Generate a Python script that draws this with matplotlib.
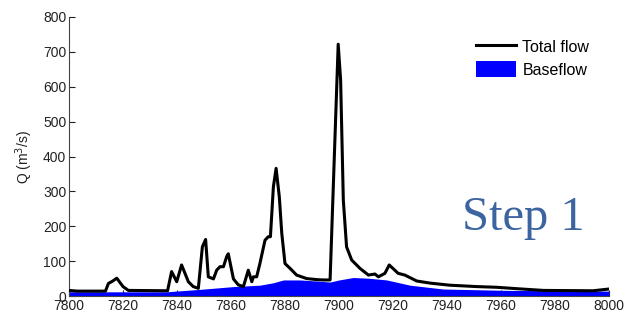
import matplotlib
matplotlib.use("Agg")
import matplotlib.pyplot as plt
from matplotlib.patches import Patch
from matplotlib.lines import Line2D

# Total flow
total_x = [7800, 7803, 7813.5, 7814.6, 7816, 7817.7, 7820, 7822, 7836.5,
           7838, 7839.9, 7841.7, 7844.2, 7846, 7847.9, 7849.4, 7850.6, 7851.6,
           7853.5, 7854.7, 7855.9, 7857.2, 7858.4, 7859, 7860.9, 7862.7, 7864.6,
           7866.4, 7867.7, 7868.3, 7869.5, 7870.7, 7872.6, 7873.8, 7874.6,
           7875.7, 7876.7, 7877.9, 7878.8, 7880, 7881.9, 7884.3, 7888, 7891.7,
           7894.2, 7896.7, 7899.7, 7900.6, 7901.6, 7902.8, 7904.7, 7907.8,
           7910.9, 7913.3, 7914.6, 7917, 7918.6, 7921.9, 7924.4, 7928.8,
           7933.7, 7941, 7951, 7958.4, 7965.8, 7975.7, 7994, 8000]
total_q = [16, 14, 14, 36, 42, 51, 27, 16, 15,
           70, 41, 89, 41, 27, 22, 141, 162, 55,
           49, 74, 84, 84, 113, 121, 49, 32, 27,
           74, 41, 55, 55, 93, 160, 170, 170,
           313, 366, 284, 180, 93, 79, 60, 50, 47,
           46, 46, 722, 619, 275, 141, 103, 79,
           60, 63, 55, 65, 89, 65, 60, 43,
           37, 31, 27, 25, 21, 16, 15, 20]

# Baseflow
base_x = [7800, 7836, 7848.5, 7860.9, 7870.7, 7875.7, 7879.4, 7885.6, 7891.7,
          7896.7, 7900, 7905.3, 7911, 7917.7, 7926.3, 7938.6, 7963, 8000]
base_q = [12, 12, 19, 27, 31, 38, 46, 46, 43,
          40, 46, 53, 51, 46, 31, 20, 16, 14]

x_ticks = [7800, 7820, 7840, 7860, 7880, 7900, 7920, 7940, 7960, 7980, 8000]
y_ticks = [0, 100, 200, 300, 400, 500, 600, 700, 800]

plt.rcParams['font.family'] = ['Liberation Sans', 'DejaVu Sans']

fig = plt.figure(figsize=(6.31, 3.2), dpi=100)
ax = fig.add_axes([69/631, 1-296/320, (609-69)/631, (296-17)/320])

ax.fill_between(base_x, 0, base_q, color='#0000ff', linewidth=0, zorder=2)
ax.plot(total_x, total_q, color='black', linewidth=2.2, zorder=3)

ax.set_xlim(7800, 8000)
ax.set_ylim(0, 800)
ax.set_xticks(x_ticks)
ax.set_yticks(y_ticks)
ax.tick_params(direction='in', length=4, labelsize=10, colors='#222222', pad=2)
for s in ['top', 'right']:
    ax.spines[s].set_visible(False)
for s in ['left', 'bottom']:
    ax.spines[s].set_color('#444444')
ax.set_ylabel('Q (m$^3$/s)', fontsize=10, color='#222222', labelpad=6)

handles = [Line2D([], [], color='black', linewidth=2.2),
           Patch(facecolor='#0000ff', edgecolor='none')]
fig.legend(handles, ['Total flow', 'Baseflow'], loc='upper left',
           bbox_to_anchor=(476/631, 1-38/320), frameon=False, fontsize=11.5,
           borderpad=0, borderaxespad=0, handlelength=2.5, handleheight=1.2,
           handletextpad=0.4, labelspacing=0.4)

fig.text(462/631, 1-230/320, 'Step 1', fontsize=35, color='#3b64a0',
         family=['Liberation Serif', 'DejaVu Serif'], ha='left', va='baseline')

fig.savefig('out.png', dpi=100)
